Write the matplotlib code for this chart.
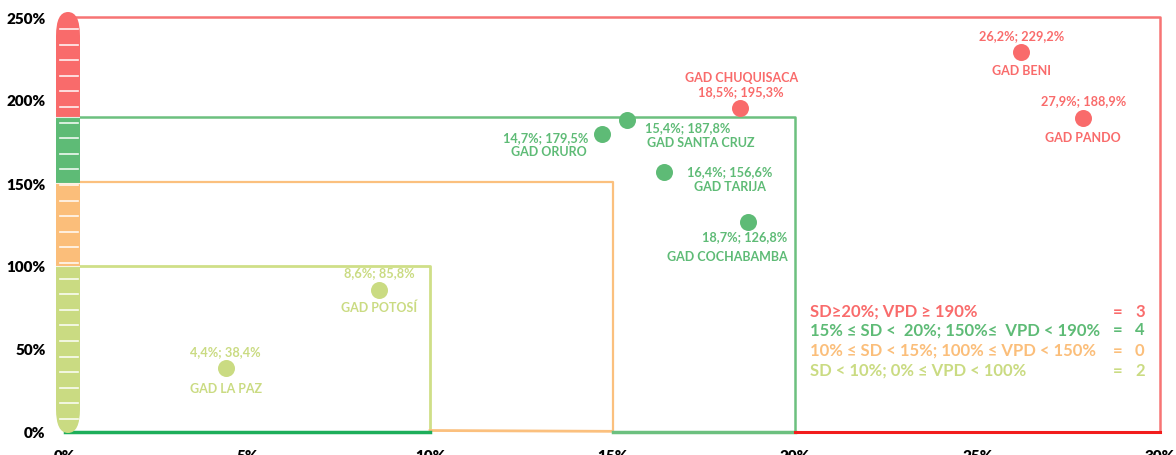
import matplotlib
matplotlib.use("Agg")
import matplotlib.pyplot as plt
from matplotlib.patches import Rectangle, FancyBboxPatch
from matplotlib.ticker import FuncFormatter

# ── Data ─────────────────────────────────────────────────────────────────────
names = ["GAD BENI", "GAD PANDO", "GAD CHUQUISACA", "GAD SANTA CRUZ", "GAD ORURO",
         "GAD TARIJA", "GAD COCHABAMBA", "GAD POTOSÍ", "GAD LA PAZ"]
sd = [26.2, 27.9, 18.5, 15.4, 14.7, 16.4, 18.7, 8.6, 4.4]
vpd = [229.2, 188.9, 195.3, 187.8, 179.5, 156.6, 126.8, 85.8, 38.4]
group = [0, 0, 0, 1, 1, 1, 1, 3, 3]

sd_limits = [10, 15, 20, 30]
vpd_limits = [100, 150.6, 190, 250]
legend_texts = ["SD≥20%; VPD ≥ 190%",
                "15% ≤ SD <  20%; 150%≤  VPD < 190%",
                "10% ≤ SD < 15%; 100% ≤ VPD < 150%",
                "SD < 10%; 0% ≤ VPD < 100%"]
legend_counts = [3, 4, 0, 2]

# ── Style ────────────────────────────────────────────────────────────────────
RED = "#F96B6B"
GREEN = "#5EBB76"
ORANGE = "#FBBE7A"
LGREEN = "#CADB82"
COLORS = [RED, GREEN, ORANGE, LGREEN]
FONT = ["Lato", "DejaVu Sans"]
plt.rcParams["font.family"] = FONT

W, H = 1176, 456
fig = plt.figure(figsize=(W / 100, H / 100), dpi=100)
ax = fig.add_axes([65 / W, 23 / H, 1095 / W, 415 / H])
ax.set_xlim(0, 30)
ax.set_ylim(0, 250)
for s in ax.spines.values():
    s.set_visible(False)
ax.set_xticks(range(0, 31, 5))
ax.set_yticks(range(0, 251, 50))
fmt = FuncFormatter(lambda v, p: f"{v:.0f}%")
ax.xaxis.set_major_formatter(fmt)
ax.yaxis.set_major_formatter(fmt)
ax.tick_params(length=0, labelsize=11)
ax.tick_params(axis="y", pad=14)
ax.tick_params(axis="x", pad=12)
for lb in ax.get_xticklabels() + ax.get_yticklabels():
    lb.set_fontweight("heavy")

# ── Threshold boxes ──────────────────────────────────────────────────────────
# light green box
ax.plot([0, sd_limits[0], sd_limits[0]], [vpd_limits[0], vpd_limits[0], 0],
        color="#CFDF88", lw=2, zorder=2)
# orange box
ax.plot([0, sd_limits[1], sd_limits[1]], [vpd_limits[1], vpd_limits[1], 0],
        color="#FBC07E", lw=1.6, zorder=2)
ax.plot([sd_limits[0], sd_limits[1]], [0.9, 0.4], color="#FBC07E", lw=2, zorder=2,
        clip_on=False)
# green box
ax.plot([0, sd_limits[2], sd_limits[2]], [vpd_limits[2], vpd_limits[2], 0],
        color="#6CC07F", lw=1.8, zorder=2)
ax.plot([sd_limits[1], sd_limits[2]], [0, 0], color="#6CC07F", lw=2.5, zorder=2,
        clip_on=False)
ax.plot([0, sd_limits[0]], [0, 0], color="#1DAE5A", lw=2.5, zorder=2, clip_on=False)
# red box
ax.plot([0, sd_limits[3], sd_limits[3]], [vpd_limits[3], vpd_limits[3], 0],
        color="#F77474", lw=1.8, zorder=2, clip_on=False)
ax.plot([sd_limits[2], sd_limits[3]], [0, 0], color="#F21C1C", lw=2.2, zorder=2,
        clip_on=False)

# ── Left pill bar ────────────────────────────────────────────────────────────
pb, pt = 22, 443            # pill bottom/top in figure pixels
pax = fig.add_axes([56 / W, pb / H, 24 / W, (pt - pb) / H])
pax.set_xlim(0, 24)
pax.set_ylim(pb, pt)
pax.axis("off")
fig.canvas.draw()


def ypix(v):
    return ax.transData.transform((0, v))[1]


bounds = [pb, ypix(100), ypix(150), ypix(190), pt]
seg_cols = [LGREEN, ORANGE, GREEN, RED]
clip = FancyBboxPatch((0, pb), 24, pt - pb, boxstyle="round,pad=0,rounding_size=12",
                      mutation_aspect=2.0, facecolor="none", edgecolor="none",
                      transform=pax.transData)
pax.add_patch(clip)
for i in range(4):
    r = Rectangle((0, bounds[i]), 24, bounds[i + 1] - bounds[i], facecolor=seg_cols[i],
                  edgecolor="none")
    pax.add_patch(r)
    r.set_clip_path(clip)
y = pb + 14
while y < pt - 5:
    pax.plot([3.5, 22], [y, y], color="white", lw=1.2, alpha=0.9)
    y += 15.6
for b in bounds[1:4]:
    pax.plot([0, 24], [b, b], color="white", lw=0.8, alpha=0.8)

# ── Points ───────────────────────────────────────────────────────────────────
for x, v, g in zip(sd, vpd, group):
    ax.scatter(x, v, s=150, color=COLORS[g], zorder=5, linewidths=0)

# label offsets in pixels: (values dx, dy, ha), (name dx, dy, ha)
offsets = {
    "GAD BENI": ((0, 16, "center"), (0, -18, "center")),
    "GAD PANDO": ((0, 18, "center"), (0, -19, "center")),
    "GAD CHUQUISACA": ((1, 17, "center"), (1, 31, "center")),
    "GAD SANTA CRUZ": ((18, -7, "left"), (20, -22, "left")),
    "GAD ORURO": ((-56, -3, "center"), (-53, -17, "center")),
    "GAD TARIJA": ((66, 1, "center"), (66, -14, "center")),
    "GAD COCHABAMBA": ((-3, -15, "center"), (-20, -34, "center")),
    "GAD POTOSÍ": ((0, 17, "center"), (0, -17, "center")),
    "GAD LA PAZ": ((0, 17, "center"), (0, -20, "center")),
}
for n, x, v, g in zip(names, sd, vpd, group):
    (vx, vy, vha), (nx, ny, nha) = offsets[n]
    val = f"{x:.1f}%; {v:.1f}%".replace(".", ",")
    ax.annotate(val, (x, v), xytext=(vx, vy), textcoords="offset pixels",
                ha=vha, va="center", fontsize=9.2, fontweight="bold", color=COLORS[g])
    ax.annotate(n, (x, v), xytext=(nx, ny), textcoords="offset pixels",
                ha=nha, va="center", fontsize=9, fontweight="bold", color=COLORS[g])

# ── Legend block ─────────────────────────────────────────────────────────────
leg_y = [72.9, 62.0, 49.6, 37.4]
for t, c, yy, col in zip(legend_texts, legend_counts, leg_y, COLORS):
    ax.text(20.4, yy, t, fontsize=12, fontweight="bold", color=col, va="center",
            ha="left", zorder=6)
    ax.text(28.85, yy, "=", fontsize=12, fontweight="bold", color=col, va="center",
            ha="center", zorder=6)
    ax.text(29.45, yy, str(c), fontsize=12, fontweight="bold", color=col, va="center",
            ha="center", zorder=6)

fig.savefig("out.png", dpi=100, facecolor="white")
